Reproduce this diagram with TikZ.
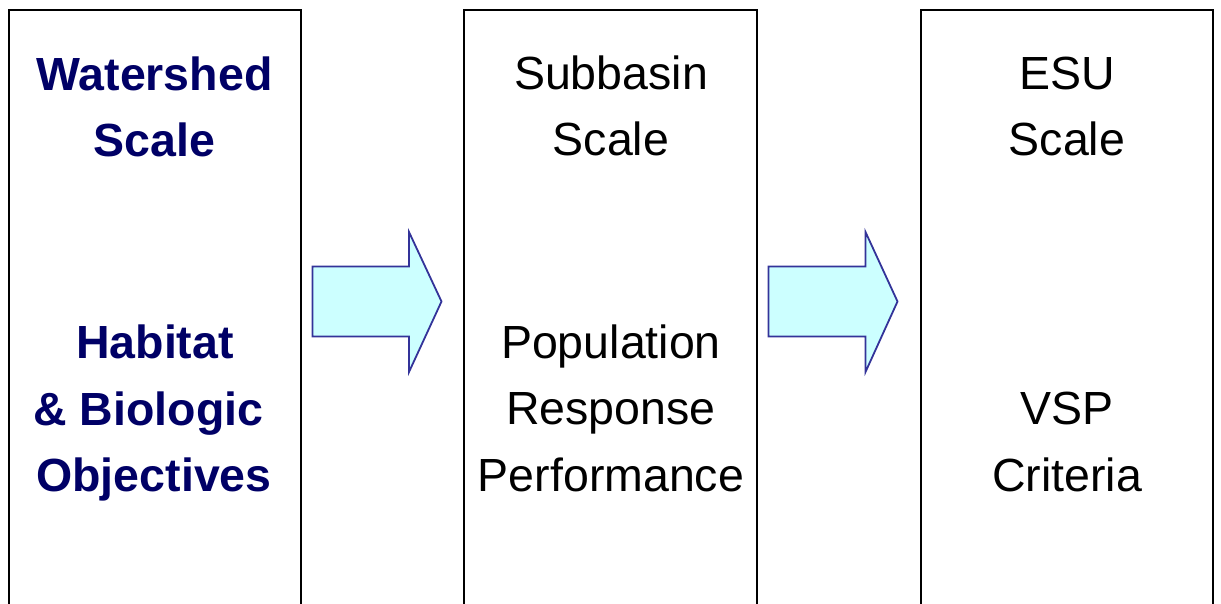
\documentclass[tikz,border=0pt]{standalone}
\usepackage{fontspec}
\setmainfont{Liberation Sans}
\definecolor{navytext}{HTML}{000066}
\definecolor{arrowfill}{HTML}{CCFFFF}
\definecolor{arrowline}{HTML}{333399}
\tikzset{
  panel/.style={draw=black, line width=2pt},
  blockarrow/.style={fill=arrowfill, draw=arrowline, line width=1.8pt, line join=miter},
  lbl/.style={anchor=base, inner sep=0pt, font=\fontsize{46.5}{56}\selectfont},
  boldlbl/.style={lbl, text=navytext, font=\fontsize{46.5}{56}\selectfont\bfseries},
}
\begin{document}
\begin{tikzpicture}[x=1pt, y=-1pt]
  \useasboundingbox (0,0) rectangle (1221,604);
  \clip (0,0) rectangle (1221,604);

  % three scale panels, running off the bottom edge
  \draw[panel] (8.5,10) rectangle (301,650);
  \draw[panel] (464,10) rectangle (757,650);
  \draw[panel] (921,10) rectangle (1213,650);

  % block arrows between panels
  \draw[blockarrow] (312.5,266.5) -- (409,266.5) -- (409,232) -- (441.5,301.5)
        -- (409,372) -- (409,336.5) -- (312.5,336.5) -- cycle;
  \draw[blockarrow] (768.5,266.5) -- (865.5,266.5) -- (865.5,232) -- (897.5,301.5)
        -- (865.5,372) -- (865.5,336.5) -- (768.5,336.5) -- cycle;

  % watershed panel
  \node[boldlbl] (ws1) at (154.5,91) {Watershed};
  \node[boldlbl] (ws2) at (154.5,157) {Scale};
  \node[boldlbl] (hb1) at (155,358.5) {Habitat};
  \node[boldlbl] (hb2) at (148.5,425) {\& Biologic};
  \node[boldlbl] (hb3) at (154,491.5) {Objectives};

  % subbasin panel
  \node[lbl] (sb1) at (611,90) {Subbasin};
  \node[lbl] (sb2) at (611,156) {Scale};
  \node[lbl] (pr1) at (611,358) {Population};
  \node[lbl] (pr2) at (611,424.5) {Response};
  \node[lbl] (pr3) at (611,491) {Performance};

  % ESU panel
  \node[lbl] (es1) at (1067,90) {ESU};
  \node[lbl] (es2) at (1067,156) {Scale};
  \node[lbl] (vs1) at (1067,424.5) {VSP};
  \node[lbl] (vs2) at (1067,491) {Criteria};
\end{tikzpicture}
\end{document}
